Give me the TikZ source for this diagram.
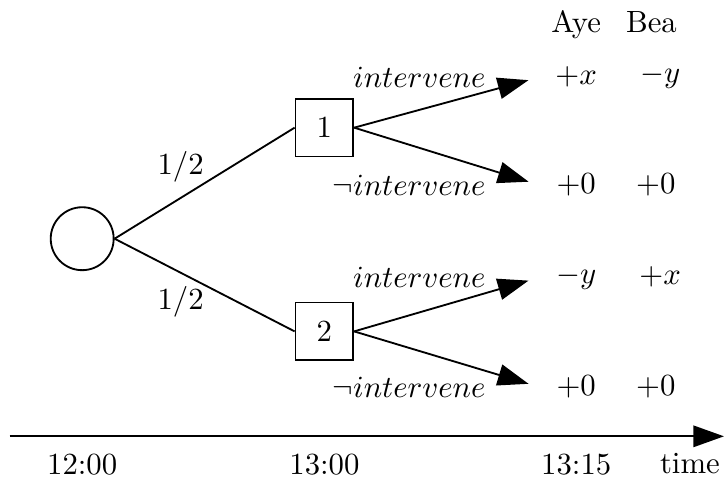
\documentclass[tikz,border=0pt]{standalone}
\usetikzlibrary{arrows.meta,positioning}

\tikzset{
  chance/.style={draw, semithick, circle, minimum size=0.72cm, inner sep=0pt},
  decision/.style={draw, semithick, rectangle, minimum size=0.66cm, inner sep=0pt},
  payoff/.style={minimum width=0.8cm},
  player/.style={anchor=base},
  choice/.style={anchor=east},
}

\begin{document}
\begin{tikzpicture}[>={Triangle[length=10pt, width=7pt]}, semithick]
    \useasboundingbox (0,0) rectangle (8.28,-5.46);

    % === Nodos del arbol ===
    \node[chance] (c) at (0.94,-2.73) {};
    \node[decision] (b1) at (3.71,-1.46) {1};
    \node[decision] (b2) at (3.71,-3.79) {2};

    % Azar
    \draw (c.east) -- node[midway, above left, inner sep=0pt] {$1/2$} (b1.west);
    \draw (c.east) -- node[midway, below left, inner sep=0pt] {$1/2$} (b2.west);

    % === Pagos (Aye, Bea) ===
    \node[player] (aye) at (6.59,-0.37) {Aye};
    \node[player] (bea) at (7.45,-0.37) {Bea};

    \node[payoff] (p1) at (6.59,-0.88) {$+x$};
    \node[payoff] (q1) at (7.55,-0.88) {$-y$};
    \node[payoff] (p2) at (6.59,-2.12) {$+0$};
    \node[payoff] (q2) at (7.50,-2.12) {$+0$};
    \node[payoff] (p3) at (6.59,-3.17) {$-y$};
    \node[payoff] (q3) at (7.55,-3.17) {$+x$};
    \node[payoff] (p4) at (6.59,-4.43) {$+0$};
    \node[payoff] (q4) at (7.50,-4.43) {$+0$};

    % Decisiones del jugador 1
    \draw[->, shorten >=4pt] (b1.east) -- (p1.west);
    \draw[->, shorten >=4pt] (b1.east) -- (p2.west);
    \node[choice, left=0.5cm of p1] (i1) {$intervene$};
    \node[choice, left=0.5cm of p2] (n1) {$\neg intervene$};

    % Decisiones del jugador 2
    \draw[->, shorten >=4pt] (b2.east) -- (p3.west);
    \draw[->, shorten >=4pt] (b2.east) -- (p4.west);
    \node[choice, left=0.5cm of p3] (i2) {$intervene$};
    \node[choice, left=0.5cm of p4] (n2) {$\neg intervene$};

    % === Linea de tiempo ===
    \coordinate (t0) at (0.11,-4.99);
    \coordinate (t1) at (8.28,-4.99);
    \draw[->] (t0) -- (t1);
    \node[below=2pt] (h0) at (c |- t0) {12:00};
    \node[below=2pt] (h1) at (b1 |- t0) {13:00};
    \node[below=2pt] (h2) at (p1 |- t0) {13:15};
    \node[below=2pt] (h3) at (7.89,-4.99) {time};

\end{tikzpicture}
\end{document}
